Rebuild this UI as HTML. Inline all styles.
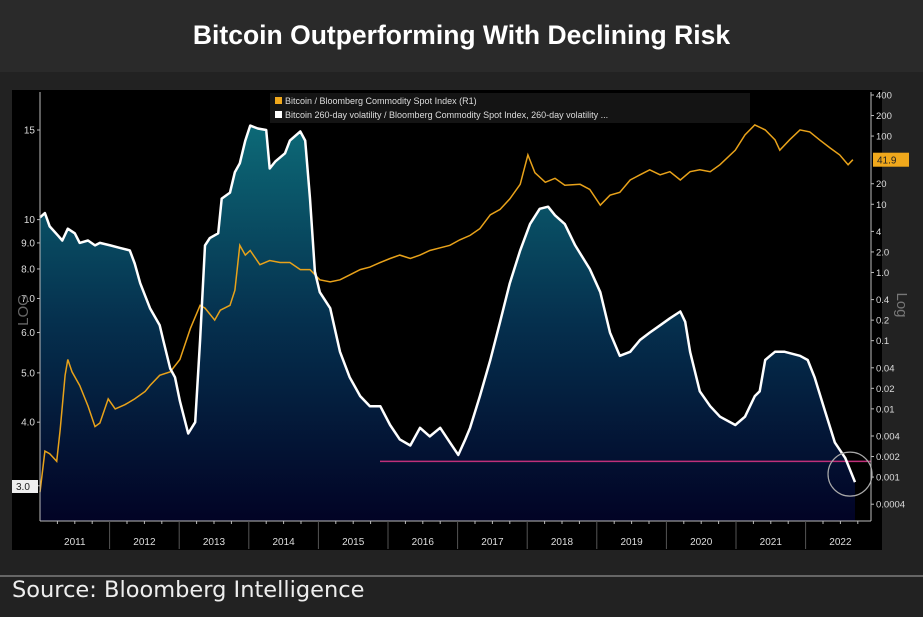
<!DOCTYPE html>
<html><head><meta charset="utf-8">
<style>
html,body{margin:0;padding:0;background:#222;}
body{width:923px;height:617px;overflow:hidden;position:relative;font-family:"Liberation Sans",sans-serif;}
#title{position:absolute;left:0;top:0;width:923px;height:72px;background:#2a2a2a;color:#fff;font-size:26.5px;font-weight:bold;text-align:center;line-height:70px;}
#src{position:absolute;left:12px;top:577px;color:#eee;font-size:22.5px;font-family:"DejaVu Sans",sans-serif;}
#sep{position:absolute;left:0;top:575px;width:923px;height:2px;background:#666;}
svg{position:absolute;left:0;top:0;}
</style></head><body>
<div id="title">Bitcoin Outperforming With Declining Risk</div>
<div id="sep"></div>
<div id="src">Source: Bloomberg Intelligence</div>
<svg id="chart" width="923" height="617"></svg>
<script>
const years=[2011,2012,2013,2014,2015,2016,2017,2018,2019,2020,2021,2022];
const leftTicks=[3.0,4.0,5.0,6.0,7.0,8.0,9.0,10,15];
const leftTickLabels=["3.0","4.0","5.0","6.0","7.0","8.0","9.0","10","15"];
const rightTicks=[0.0004,0.001,0.002,0.004,0.01,0.02,0.04,0.1,0.2,0.4,1,2,4,10,20,100,200,400];
const rightTickLabels=["0.0004","0.001","0.002","0.004","0.01","0.02","0.04","0.1","0.2","0.4","1.0","2.0","4","10","20","100","200","400"];
const volDates=[2011.00,2011.07,2011.14,2011.26,2011.32,2011.40,2011.50,2011.57,2011.69,2011.79,2011.86,2012.01,2012.15,2012.29,2012.36,2012.44,2012.58,2012.72,2012.77,2012.87,2012.94,2013.01,2013.13,2013.23,2013.30,2013.37,2013.44,2013.56,2013.61,2013.73,2013.80,2013.87,2013.95,2014.02,2014.13,2014.25,2014.30,2014.38,2014.52,2014.59,2014.74,2014.81,2014.88,2014.95,2015.02,2015.17,2015.31,2015.45,2015.60,2015.74,2015.89,2016.03,2016.17,2016.32,2016.46,2016.60,2016.75,2016.89,2017.01,2017.11,2017.18,2017.32,2017.47,2017.61,2017.75,2017.90,2018.04,2018.18,2018.30,2018.40,2018.54,2018.69,2018.90,2019.05,2019.19,2019.33,2019.48,2019.62,2019.76,2019.91,2020.05,2020.20,2020.27,2020.34,2020.48,2020.63,2020.77,2020.99,2021.13,2021.27,2021.34,2021.42,2021.49,2021.56,2021.70,2021.92,2022.03,2022.13,2022.28,2022.42,2022.57,2022.71];
const volValues=[10.1,10.3,9.7,9.3,9.1,9.6,9.4,9.0,9.1,8.9,9.0,8.9,8.8,8.7,8.2,7.5,6.7,6.2,5.8,5.1,4.9,4.4,3.8,4.0,5.8,8.9,9.2,9.4,11.0,11.3,12.4,12.9,14.3,15.3,15.1,15.0,12.6,13.0,13.5,14.3,14.9,14.3,11.0,7.9,7.2,6.7,5.5,4.9,4.5,4.3,4.3,3.95,3.7,3.6,3.9,3.75,3.9,3.65,3.45,3.7,3.9,4.5,5.3,6.3,7.5,8.7,9.8,10.5,10.6,10.2,9.8,8.9,8.0,7.2,6.0,5.4,5.5,5.8,6.0,6.2,6.4,6.6,6.3,5.5,4.6,4.3,4.1,3.95,4.1,4.5,4.6,5.3,5.4,5.5,5.5,5.4,5.3,4.9,4.2,3.65,3.4,3.05];
const btcDates=[2011.00,2011.07,2011.14,2011.24,2011.29,2011.36,2011.40,2011.46,2011.57,2011.69,2011.79,2011.86,2011.98,2012.08,2012.22,2012.36,2012.51,2012.58,2012.72,2012.87,2013.01,2013.16,2013.30,2013.37,2013.51,2013.59,2013.73,2013.80,2013.87,2013.95,2014.02,2014.16,2014.30,2014.45,2014.59,2014.74,2014.88,2015.02,2015.17,2015.31,2015.45,2015.60,2015.74,2015.89,2016.03,2016.17,2016.32,2016.46,2016.60,2016.75,2016.89,2017.03,2017.18,2017.32,2017.47,2017.61,2017.75,2017.90,2018.01,2018.11,2018.26,2018.40,2018.54,2018.76,2018.90,2019.05,2019.19,2019.33,2019.48,2019.62,2019.76,2019.91,2020.05,2020.20,2020.34,2020.48,2020.63,2020.77,2020.99,2021.13,2021.27,2021.42,2021.56,2021.63,2021.77,2021.92,2022.06,2022.20,2022.35,2022.49,2022.61,2022.68];
const btcValues=[0.0006,0.0024,0.0022,0.0017,0.005,0.031,0.053,0.035,0.022,0.011,0.0055,0.0062,0.014,0.01,0.0115,0.014,0.018,0.022,0.031,0.035,0.053,0.15,0.33,0.3,0.2,0.28,0.33,0.55,2.5,1.8,2.1,1.3,1.5,1.4,1.4,1.1,1.1,0.78,0.73,0.78,0.92,1.1,1.2,1.4,1.6,1.8,1.6,1.8,2.1,2.3,2.5,3.0,3.5,4.4,7.0,8.4,12,19.6,53,29,21,24,19,19.6,16.5,9.7,13.6,15,22.7,27,32,27,30,22.7,30,32,30,38,62,104,146,123,88,62,88,123,115,88,67,53,38,45];
const lastLabel="41.9";
const thresholdValue=0.0017;

const NS="http://www.w3.org/2000/svg";
const svg=document.getElementById('chart');
const X0=40,X1=871,Y0=92,Y1=521;
const xS=d=>40+(d-2011)*69.6;
const yL=v=>130-(Math.log10(v)-Math.log10(15))*509;
const yR=v=>95-(Math.log10(v)-Math.log10(400))*68.2;
function mk(t,a,p){const e=document.createElementNS(NS,t);for(const k in a)e.setAttribute(k,a[k]);(p||svg).appendChild(e);return e;}

const defs=mk('defs',{});
const g=mk('linearGradient',{id:'fillg',gradientUnits:'userSpaceOnUse',x1:0,x2:0,y1:120,y2:521},defs);
mk('stop',{offset:'0','stop-color':'#0d6b78'},g);
mk('stop',{offset:'0.5','stop-color':'#05304e'},g);
mk('stop',{offset:'1','stop-color':'#020325'},g);

const panel=mk('rect',{x:12,y:90,width:870,height:460,fill:'#000'});



let pts=volDates.map((d,i)=>xS(d).toFixed(1)+','+yL(volValues[i]).toFixed(1));
const area=mk('path',{d:'M'+xS(volDates[0])+','+Y1+' L'+pts.join(' L')+' L'+xS(volDates[volDates.length-1])+','+Y1+' Z',fill:'url(#fillg)'});



const th=mk('line',{x1:380,x2:X1,y1:yR(thresholdValue),y2:yR(thresholdValue),stroke:'#c0307a','stroke-width':1.5});



const btc=mk('polyline',{points:btcDates.map((d,i)=>xS(d).toFixed(1)+','+yR(btcValues[i]).toFixed(1)).join(' '),fill:'none',stroke:'#e8a21a','stroke-width':1.5});



const vol=mk('polyline',{points:pts.join(' '),fill:'none',stroke:'#fff','stroke-width':2.5,'stroke-linejoin':'round'});



const circ=mk('circle',{cx:xS(volDates[volDates.length-1])-5,cy:yL(volValues[volValues.length-1])-8,r:22,fill:'none',stroke:'#aaa','stroke-width':1.2});



mk('line',{x1:X0,x2:X0,y1:Y0,y2:Y1,stroke:'#bbb','stroke-width':1});
mk('line',{x1:X1,x2:X1,y1:Y0,y2:Y1,stroke:'#bbb','stroke-width':1});
mk('line',{x1:X0,x2:X1,y1:Y1,y2:Y1,stroke:'#bbb','stroke-width':1});
leftTicks.forEach((v,i)=>{
  mk('line',{x1:X0-3,x2:X0,y1:yL(v),y2:yL(v),stroke:'#bbb'});
  const t=mk('text',{x:X0-5,y:yL(v)+3.5,'text-anchor':'end','font-size':10,fill:'#ddd'});
  t.textContent=leftTickLabels[i];
  
  
});
rightTicks.forEach((v,i)=>{
  mk('line',{x1:X1,x2:X1+3,y1:yR(v),y2:yR(v),stroke:'#bbb'});
  const t=mk('text',{x:X1+5,y:yR(v)+3.5,'font-size':9.5,fill:'#ddd'});
  t.textContent=rightTickLabels[i];
  
  
});
years.forEach((yr,i)=>{
  const x=xS(yr);
  if(i>0)mk('line',{x1:x,x2:x,y1:Y1,y2:549,stroke:'#555'});
  for(let q=1;q<4;q++)mk('line',{x1:x+q*17.4,x2:x+q*17.4,y1:Y1,y2:Y1+3,stroke:'#bbb'});
  const t=mk('text',{x:x+34.8,y:545,'text-anchor':'middle','font-size':10,fill:'#ddd'});
  t.textContent=String(yr);
  
  
});
const ly=yR(btcValues[btcValues.length-1]);
mk('rect',{x:X1+2,y:ly-7,width:36,height:14,fill:'#f0a81c'});
const lt=mk('text',{x:X1+6,y:ly+4,'font-size':10,fill:'#222'});lt.textContent=lastLabel;


mk('rect',{x:12,y:480,width:26,height:13,fill:'#eee'});
const ft=mk('text',{x:16,y:490,'font-size':10,fill:'#222'});ft.textContent='3.0';


const la=mk('text',{x:28,y:310,'font-size':15,fill:'#666',transform:'rotate(-90 28 310)','text-anchor':'middle'});la.textContent='LOG';


const ra=mk('text',{x:897,y:305,'font-size':15,fill:'#777',transform:'rotate(90 897 305)','text-anchor':'middle'});ra.textContent='Log';


const lg=mk('g',{});


mk('rect',{x:270,y:93,width:480,height:30,fill:'#141414'},lg);
mk('rect',{x:275,y:97,width:7,height:7,fill:'#f0a81c'},lg);
mk('rect',{x:275,y:111,width:7,height:7,fill:'#fff'},lg);
const l1=mk('text',{x:285,y:104,'font-size':9,fill:'#ddd'},lg);l1.textContent='Bitcoin / Bloomberg Commodity Spot Index (R1)';


const l2=mk('text',{x:285,y:118,'font-size':9,fill:'#ddd'},lg);l2.textContent='Bitcoin 260-day volatility / Bloomberg Commodity Spot Index, 260-day volatility ...';


</script>
</body></html>
